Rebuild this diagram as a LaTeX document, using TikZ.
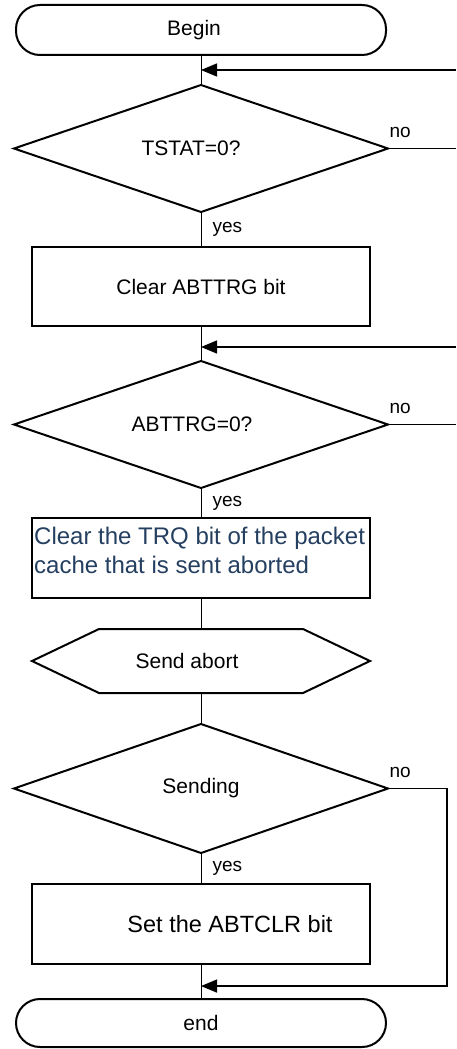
\documentclass[tikz,border=0pt]{standalone}
\usepackage{fontspec}
\setmainfont{Liberation Sans}
\definecolor{trqblue}{HTML}{243F60}
\usetikzlibrary{
  positioning,
  arrows.meta,
  shapes.geometric,
  calc
}

\begin{document}
\begin{tikzpicture}[
  x=1pt, y=1pt,
  >={Triangle[length=16pt,width=13pt]},
  node distance=30pt,
  term/.style={
    rectangle, rounded corners=24pt, minimum width=370pt, minimum height=50pt,
    draw, line width=2pt, outer sep=0pt, font=\fontsize{21}{25}\selectfont
  },
  decision/.style={
    diamond, aspect=3, minimum width=374pt, minimum height=127pt,
    draw, line width=2pt, outer sep=0pt, font=\fontsize{21}{25}\selectfont
  },
  proc/.style={
    rectangle, minimum width=338pt, minimum height=80pt,
    draw, line width=2pt, outer sep=0pt, font=\fontsize{21}{25}\selectfont
  },
  hexbox/.style={
    rectangle, minimum width=338pt, minimum height=64pt,
    outer sep=0pt, font=\fontsize{21}{25}\selectfont
  },
  conn/.style={line width=1pt},
  arr/.style={->, line width=1.3pt},
  lbl/.style={font=\fontsize{19}{22}\selectfont, inner sep=1pt}
]

\useasboundingbox (0,0) rectangle (456,-1049);
\coordinate (edge) at (456,0);

\node[term] (begin) at (201,-30) {Begin\hspace*{14pt}};
\node[decision, below=30pt of begin] (tstat) {TSTAT=0?\hspace*{20pt}};
\node[proc, below=35pt of tstat, minimum height=79pt] (clrabt) {Clear ABTTRG bit};
\node[decision, below=35pt of clrabt] (abttrg) {ABTTRG=0?\hspace*{18pt}};
\node[proc, below=30pt of abttrg, label={[anchor=north west, xshift=2pt,
  yshift=-9pt, inner sep=0pt, align=left, text=trqblue,
  font=\fontsize{24}{29}\selectfont]north west:Clear the TRQ bit of the packet\\cache that is sent aborted}]
  (clrtrq) {};
\node[hexbox, below=31pt of clrtrq] (sendab) {Send abort\hspace*{28pt}};
\node[decision, below=31pt of sendab, minimum height=129pt] (sending) {Sending};
\node[proc, below=31pt of sending, font=\fontsize{23.5}{28}\selectfont]
  (setabt) {\hspace*{58pt}Set the ABTCLR bit};
\node[term, below=35pt of setabt, minimum height=48pt] (stop) {end};

% hexagon round the send abort text
\draw[line width=2pt] (sendab.west) -- ([xshift=67pt]sendab.north west)
  -- ([xshift=-67pt]sendab.north east) -- (sendab.east)
  -- ([xshift=-67pt]sendab.south east) -- ([xshift=67pt]sendab.south west) -- cycle;

\coordinate (j1) at ($(begin.south)!0.5!(tstat.north)$);
\coordinate (j2) at ($(clrabt.south)!0.6!(abttrg.north)$);
\coordinate (j3) at ($(setabt.south)!0.63!(stop.north)$);

\draw[conn] (begin.south) -- (tstat.north);
\draw[arr] (j1 -| edge) -- (j1);
\draw[conn] (tstat.east) -- node[lbl, at start, anchor=south west, yshift=9pt] {no}
  (tstat.east -| edge);
\draw[conn] (tstat.south) -- node[lbl, right, xshift=10pt] {yes} (clrabt.north);
\draw[conn] (clrabt.south) -- (abttrg.north);
\draw[arr] (j2 -| edge) -- (j2);
\draw[conn] (abttrg.east) -- node[lbl, at start, anchor=south west, yshift=9pt] {no}
  (abttrg.east -| edge);
\draw[conn] (abttrg.south) -- node[lbl, right, xshift=10pt] {yes} (clrtrq.north);
\draw[conn] (clrtrq.south) -- (sendab.north);
\draw[conn] (sendab.south) -- (sending.north);
\draw[conn] (sending.south) -- node[lbl, right, xshift=10pt] {yes} (setabt.north);
\draw[conn] (setabt.south) -- (stop.north);
\draw[arr] (sending.east) node[lbl, anchor=south west, yshift=9pt] {no}
  -- ++(59,0) |- (j3);

\end{tikzpicture}
\end{document}
